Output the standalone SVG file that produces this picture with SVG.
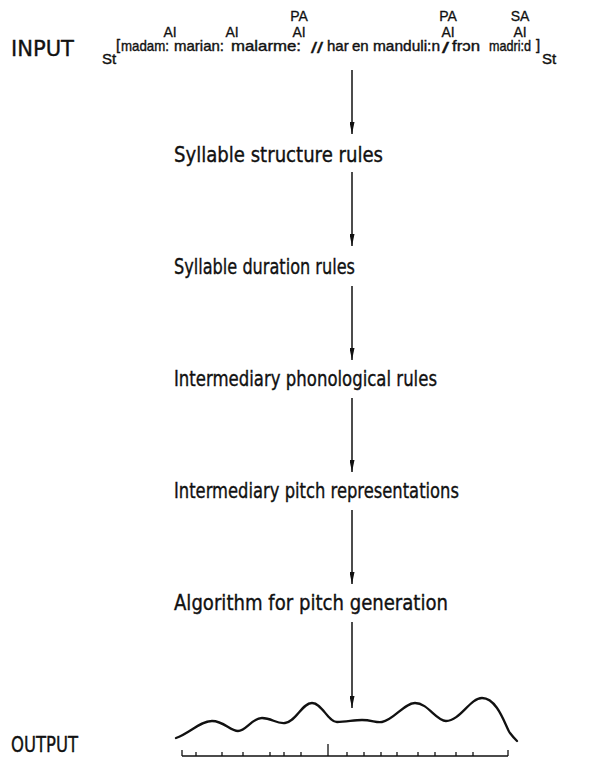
<svg xmlns="http://www.w3.org/2000/svg" width="603" height="763" viewBox="0 0 603 763">
  <style>
    .lbl { font-family: "DejaVu Sans", "Liberation Sans", sans-serif; fill: #111; stroke: #111; stroke-width: 0.35; }
    .big { font-size: 21px; }
    .ph { font-family: "Liberation Sans", Arial, sans-serif; font-size: 15px; fill: #111; stroke: #111; stroke-width: 0.4; }
    .tag { font-family: "Liberation Sans", Arial, sans-serif; font-size: 14px; text-anchor: middle; fill: #111; stroke: #111; stroke-width: 0.3; }
    .step { font-family: "DejaVu Sans", "Liberation Sans", sans-serif; font-size: 22px; fill: #111; stroke: #111; stroke-width: 0.4; }
    .flow { stroke: #111; stroke-width: 1.5; fill: none; }
    .pitch { stroke: #111; stroke-width: 2.3; fill: none; stroke-linecap: round; stroke-linejoin: round; }
    .axis { stroke: #111; stroke-width: 1.3; fill: none; }
  </style>
  <defs>
    <marker id="tip" viewBox="0 0 12 5" refX="12" refY="2.5" markerWidth="12" markerHeight="5" markerUnits="userSpaceOnUse" orient="auto">
      <path d="M0,0 L12,2.5 L0,5 Z" fill="#111"/>
    </marker>
  </defs>

  <!-- input string -->
  <g id="input">
    <text class="lbl big" x="11" y="56" textLength="63" lengthAdjust="spacingAndGlyphs">INPUT</text>
    <text class="ph" x="102" y="64">St</text>
    <text class="ph" x="116" y="50">[</text>
    <text class="ph" x="121" y="51" textLength="48" lengthAdjust="spacingAndGlyphs">madam:</text>
    <text class="ph" x="174" y="51" textLength="50" lengthAdjust="spacingAndGlyphs">marian:</text>
    <text class="ph" x="231" y="51" textLength="70" lengthAdjust="spacingAndGlyphs">malarme:</text>
    <text class="ph" x="311" y="53" textLength="12" lengthAdjust="spacingAndGlyphs">//</text>
    <text class="ph" x="327" y="51">har</text>
    <text class="ph" x="352" y="51">en</text>
    <text class="ph" x="373" y="51" textLength="67" lengthAdjust="spacingAndGlyphs">manduli:n</text>
    <text class="ph" x="442" y="53" textLength="7" lengthAdjust="spacingAndGlyphs">/</text>
    <text class="ph" x="452" y="51" textLength="28" lengthAdjust="spacingAndGlyphs">frɔn</text>
    <text class="ph" x="489" y="51" textLength="42" lengthAdjust="spacingAndGlyphs">madri:d</text>
    <text class="ph" x="536" y="50">]</text>
    <text class="ph" x="542" y="64">St</text>
    <!-- accent tags -->
    <text class="tag" x="170" y="37">AI</text>
    <text class="tag" x="232" y="37">AI</text>
    <text class="tag" x="299" y="37">AI</text>
    <text class="tag" x="299" y="21">PA</text>
    <text class="tag" x="448" y="37">AI</text>
    <text class="tag" x="448" y="21">PA</text>
    <text class="tag" x="520" y="37">AI</text>
    <text class="tag" x="520" y="21">SA</text>
  </g>

  <!-- processing stages -->
  <g id="syllable-structure"><text class="step" x="174" y="162" textLength="209" lengthAdjust="spacingAndGlyphs">Syllable structure rules</text></g>
  <g id="syllable-duration"><text class="step" x="174" y="274" textLength="181" lengthAdjust="spacingAndGlyphs">Syllable duration rules</text></g>
  <g id="phonological"><text class="step" x="174" y="386" textLength="263" lengthAdjust="spacingAndGlyphs">Intermediary phonological rules</text></g>
  <g id="pitch-repr"><text class="step" x="174" y="498" textLength="285" lengthAdjust="spacingAndGlyphs">Intermediary pitch representations</text></g>
  <g id="pitch-gen"><text class="step" x="174" y="610" textLength="274" lengthAdjust="spacingAndGlyphs">Algorithm for pitch generation</text></g>

  <!-- output contour -->
  <g id="output">
    <text class="lbl big" x="11" y="752" textLength="67" lengthAdjust="spacingAndGlyphs">OUTPUT</text>
    <path class="pitch" d="M176,738 C190,733 200,721 212,721 C224,721 230,731 238,731 C246,731 252,718 262,718 C272,718 276,724 285,723 C296,722 302,703 312,703 C322,703 328,722 337,722 C346,722 354,720 362,720 C372,720 376,723 382,722 C394,720 404,703 415,703 C428,703 436,721 446,721 C460,721 470,698 482,698 C498,698 506,728 510,733 C513,737 515,739 517,741"/>
    <path class="axis" d="M182,756 H508 M182,756 v-6 M508,756 v-6 M328,756 v-12
      M196,756 v-4 M222,756 v-4 M243,756 v-4 M270,756 v-4 M284,756 v-4 M301,756 v-4
      M347,756 v-4 M364,756 v-4 M381,756 v-4 M397,756 v-4 M418,756 v-4 M435,756 v-4
      M456,756 v-4 M473,756 v-4"/>
  </g>

  <!-- connectors -->
  <g id="connectors">
    <line class="flow" x1="352" y1="70" x2="352" y2="134" marker-end="url(#tip)"/>
    <line class="flow" x1="352" y1="172" x2="352" y2="246" marker-end="url(#tip)"/>
    <line class="flow" x1="352" y1="286" x2="352" y2="360" marker-end="url(#tip)"/>
    <line class="flow" x1="352" y1="398" x2="352" y2="472" marker-end="url(#tip)"/>
    <line class="flow" x1="352" y1="510" x2="352" y2="584" marker-end="url(#tip)"/>
    <line class="flow" x1="352" y1="622" x2="352" y2="708" marker-end="url(#tip)"/>
  </g>
</svg>
